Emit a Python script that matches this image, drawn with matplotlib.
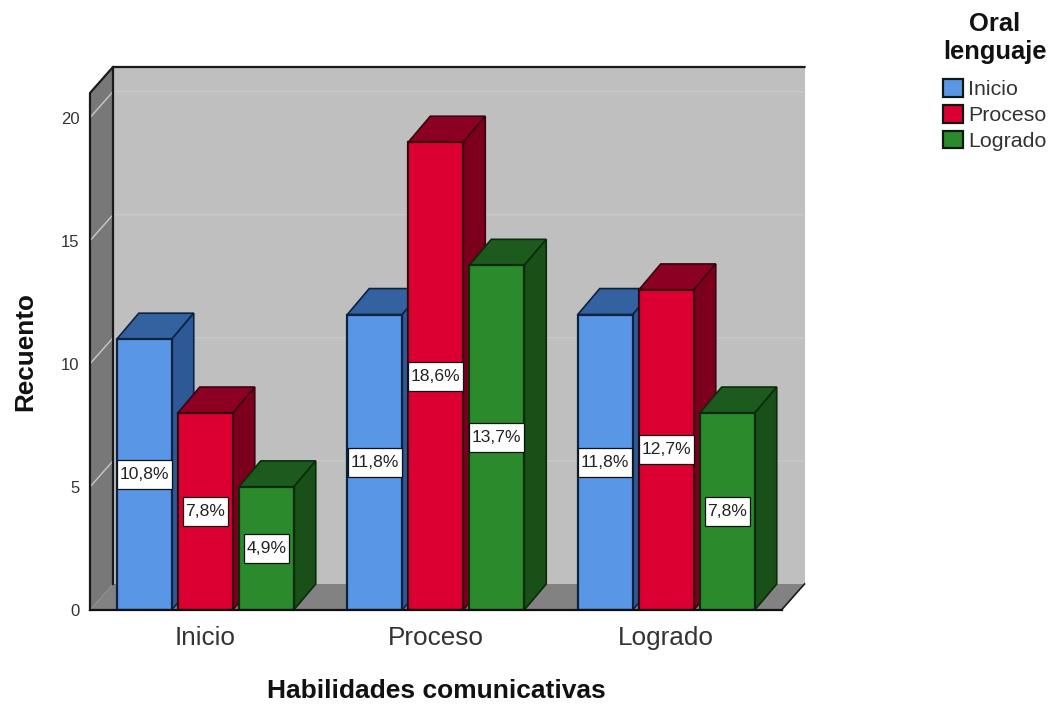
import matplotlib
matplotlib.use("Agg")
import matplotlib.pyplot as plt
from matplotlib.patches import Polygon, Patch
from matplotlib.path import Path

plt.rcParams['font.family'] = ['Liberation Sans', 'DejaVu Sans']

categories = ["Inicio", "Proceso", "Logrado"]
series_names = ["Inicio", "Proceso", "Logrado"]
inicio_vals = [11, 12, 12]
proceso_vals = [8, 19, 13]
logrado_vals = [5, 14, 8]
inicio_pct = ["10,8%", "11,8%", "11,8%"]
proceso_pct = ["7,8%", "18,6%", "12,7%"]
logrado_pct = ["4,9%", "13,7%", "7,8%"]
yticks = [0, 5, 10, 15, 20]

W, H = 1058, 705
fig = plt.figure(figsize=(W / 100, H / 100), dpi=100, facecolor="white")
L, R, T, B = 90, 781.5, 93, 610
ax = fig.add_axes([L / W, 1 - B / H, (R - L) / W, (B - T) / H])
ax.set_xlim(-0.5, 2.5)
ax.set_ylim(0, 21)
px_x = 3 / (R - L)
px_y = 21 / (B - T)
dx = 23 * px_x          # depth of the plot box
dy = 26 * px_y
bdx = 22 * px_x         # depth of a bar
bdy = 26 * px_y
x0, x1, y1 = -0.5, 2.5, 21


def poly(pts, fc, ec="none", lw=0, z=1):
    ax.add_patch(Polygon(pts, closed=True, facecolor=fc, edgecolor=ec, linewidth=lw,
                         zorder=z, clip_on=False))


def label_box(x, y, w, h, mutation_size):
    # tall, narrow white box behind a percentage label
    px, py = 0.15 * mutation_size, 0.40 * mutation_size
    a, b, c, d = x - px, y - py, x + w + px, y + h + py
    return Path([(a, b), (c, b), (c, d), (a, d), (a, b)],
                [Path.MOVETO, Path.LINETO, Path.LINETO, Path.LINETO, Path.CLOSEPOLY])


# back wall, floor, side wall
poly([(x0 + dx, dy), (x1 + dx, dy), (x1 + dx, y1 + dy), (x0 + dx, y1 + dy)], "#bfbfbf", z=1)
poly([(x0, 0), (x1, 0), (x1 + dx, dy), (x0 + dx, dy)], "#828282", z=1.2)
poly([(x0, 0), (x0 + dx, dy), (x0 + dx, y1 + dy), (x0, y1)], "#787878", z=1.2)
# grid lines
for v in yticks[1:] + [21]:
    ax.plot([x0, x0 + dx, x1 + dx], [v, v + dy, v + dy], color="#c9c9c9", lw=1.0, zorder=1.5,
            clip_on=False)
# frame of the box
ax.plot([x0, x0, x0 + dx, x1 + dx], [0, y1, y1 + dy, y1 + dy], color="#1a1a1a", lw=1.6,
        zorder=1.7, clip_on=False)
ax.plot([x0 + dx, x0 + dx], [dy, y1 + dy], color="#1a1a1a", lw=1.6, zorder=1.7, clip_on=False)
ax.plot([x1, x1 + dx], [0, dy], color="#1a1a1a", lw=1.2, zorder=1.7, clip_on=False)

# bars: colour of front, top, side, edge
styles = [
    ("#5a96e6", "#34619f", "#2d5a96", "#0c2340"),
    ("#dc0032", "#8c0023", "#7c001e", "#3a0010"),
    ("#2b8a2b", "#1d5a1d", "#185018", "#0b2b0b"),
]
values = [inicio_vals, proceso_vals, logrado_vals]
pcts = [inicio_pct, proceso_pct, logrado_pct]
bw = 55 * px_x
step = 61 * px_x
z = 2
for c in range(len(categories)):
    for s in range(3):
        v = values[s][c]
        xc = c + (s - 1) * step
        a, b = xc - bw / 2, xc + bw / 2
        front, top, side, edge = styles[s]
        poly([(a, v), (b, v), (b + bdx, v + bdy), (a + bdx, v + bdy)], top, edge, 1.2, z)
        poly([(b, 0), (b + bdx, bdy), (b + bdx, v + bdy), (b, v)], side, edge, 1.2, z)
        ax.bar(xc, v, width=bw, color=front, edgecolor=edge, linewidth=1.6, zorder=z + 0.1)
        ax.text(xc, v / 2, pcts[s][c], ha="center", va="center", fontsize=12.6, color="#222222",
                zorder=50, bbox=dict(boxstyle=label_box, fc="white", ec="#111111", lw=0.9))
        z += 0.2

# axes
for sp in ["top", "right", "left"]:
    ax.spines[sp].set_visible(False)
ax.spines["bottom"].set_linewidth(1.6)
ax.spines["bottom"].set_color("#111111")
ax.spines["bottom"].set_zorder(40)
ax.set_xticks(range(3), categories, fontsize=18.8, color="#333333")
ax.set_yticks(yticks, [str(t) for t in yticks], fontsize=12, color="#333333")
ax.tick_params(axis="both", length=0)
ax.tick_params(axis="y", pad=7.5)
ax.tick_params(axis="x", pad=11.5)
ax.set_facecolor("none")
ax.set_xlabel("Habilidades comunicativas", fontsize=19, fontweight="bold", color="#111111")
ax.set_ylabel("Recuento", fontsize=18.8, fontweight="bold", color="#111111", labelpad=17)
ax.xaxis.set_label_coords((436 - L) / (R - L), -(691 - B) / (B - T), transform=ax.transAxes)
ax.xaxis.label.set_verticalalignment("center")

# legend
handles = [Patch(facecolor=styles[i][0], edgecolor="#0d1a10", linewidth=1.6, label=series_names[i])
           for i in range(3)]
leg = fig.legend(handles=handles, title="Oral\nlenguaje", loc="upper left",
                 bbox_to_anchor=(943 / W, 1 - 12 / H), bbox_transform=fig.transFigure,
                 frameon=False, fontsize=15.4, handlelength=0.9, handleheight=0.9,
                 handletextpad=0.25, labelspacing=0.26, borderpad=0, borderaxespad=0,
                 title_fontproperties={"size": 18.4, "weight": "bold"})
leg._legend_box.sep = 11
leg.get_title().set_color("#111111")
leg.get_title().set_multialignment("center")
for t in leg.get_texts():
    t.set_color("#333333")

fig.savefig("out.png", dpi=100, facecolor="white")
